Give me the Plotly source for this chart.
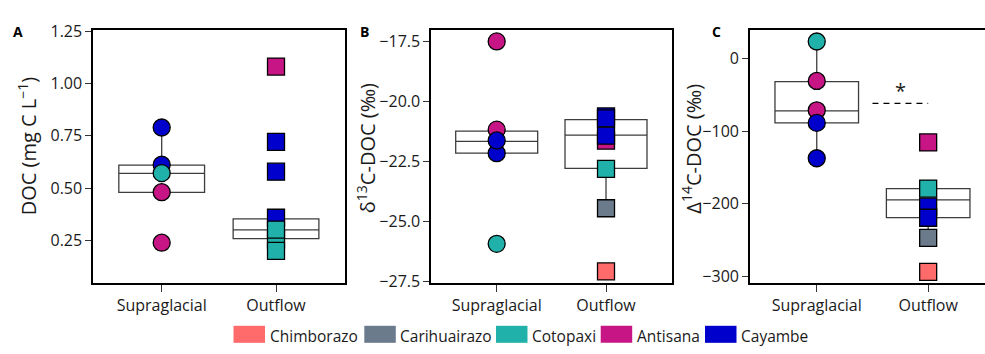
import plotly.graph_objects as go

# ---------------- data ----------------
volcanoes = ["Chimborazo", "Carihuairazo", "Cotopaxi", "Antisana", "Cayambe"]
volcano_colors = ["#FF6A6A", "#6C7B8B", "#20B2AA", "#C71585", "#0000CD"]
draw_order = ["Chimborazo", "Carihuairazo", "Antisana", "Cayambe", "Cotopaxi"]
sites = ["Supraglacial", "Outflow"]

# Panel A: DOC (mg C L-1)
doc_supra_volcano = ["Antisana", "Antisana", "Cayambe", "Cayambe", "Cotopaxi"]
doc_supra = [0.481, 0.240, 0.790, 0.612, 0.572]
doc_out_volcano = ["Antisana", "Cayambe", "Cayambe", "Cayambe", "Cotopaxi", "Cotopaxi", "Cotopaxi"]
doc_out = [1.081, 0.721, 0.579, 0.359, 0.255, 0.302, 0.201]
doc_box_q1 = [0.480, 0.259]
doc_box_median = [0.571, 0.301]
doc_box_q3 = [0.610, 0.354]
doc_box_lower = [0.480, 0.201]
doc_box_upper = [0.790, 0.359]

# Panel B: d13C-DOC (permil)
d13c_supra_volcano = ["Antisana", "Antisana", "Cayambe", "Cayambe", "Cotopaxi"]
d13c_supra = [-21.17, -17.50, -22.15, -21.62, -25.92]
d13c_out_volcano = ["Chimborazo", "Carihuairazo", "Antisana", "Cayambe", "Cayambe", "Cayambe", "Cotopaxi"]
d13c_out = [-27.07, -24.44, -21.63, -20.62, -20.70, -21.42, -22.80]
d13c_box_q1 = [-22.15, -22.78]
d13c_box_median = [-21.66, -21.40]
d13c_box_q3 = [-21.23, -20.75]
d13c_box_lower = [-22.15, -24.44]
d13c_box_upper = [-21.23, -20.62]

# Panel C: D14C-DOC (permil)
d14c_supra_volcano = ["Antisana", "Antisana", "Cayambe", "Cayambe", "Cotopaxi"]
d14c_supra = [-31.2, -71.5, -137.4, -88.8, 23.0]
d14c_out_volcano = ["Chimborazo", "Carihuairazo", "Antisana", "Cayambe", "Cayambe", "Cotopaxi"]
d14c_out = [-293.6, -246.8, -115.7, -203.9, -219.1, -179.1]
d14c_box_q1 = [-88.8, -218.9]
d14c_box_median = [-72.4, -194.7]
d14c_box_q3 = [-32.1, -179.1]
d14c_box_lower = [-137.4, -246.8]
d14c_box_upper = [23.0, -179.1]
sig_y = -62.0
sig_label = "*"

# tick labels
doc_ticks = [0.25, 0.50, 0.75, 1.00, 1.25]
doc_ticktext = ["0.25", "0.50", "0.75", "1.00", "1.25"]
d13c_ticks = [-27.5, -25.0, -22.5, -20.0, -17.5]
d13c_ticktext = ["\u221227.5", "\u221225.0", "\u221222.5", "\u221220.0", "\u221217.5"]
d14c_ticks = [-300, -200, -100, 0]
d14c_ticktext = ["\u2212300", "\u2212200", "\u2212100", "0"]

panel_letters = ["A", "B", "C"]
y_titles = ["DOC (mg C L<sup>\u22121</sup>)", "\u03b4<sup>13</sup>C-DOC (\u2030)", "\u0394<sup>14</sup>C-DOC (\u2030)"]

# ---------------- layout helpers ----------------
W, H = 985, 354
FONT = "Open Sans"
TXT = "#1a1a1a"
color_of = dict(zip(volcanoes, volcano_colors))

def px_x(p):
    return p / W

def px_y(p):
    return 1 - p / H

panels = [
    dict(sv=doc_supra_volcano, s=doc_supra, ov=doc_out_volcano, o=doc_out,
         q1=doc_box_q1, med=doc_box_median, q3=doc_box_q3, lo=doc_box_lower, hi=doc_box_upper,
         dom=[px_x(93.1), px_x(344.6)], yr=[0.0475, 1.256], xr=[-0.6, 1.6],
         tv=doc_ticks, tt=doc_ticktext, title_x=27, title_y=144, letter_x=18),
    dict(sv=d13c_supra_volcano, s=d13c_supra, ov=d13c_out_volcano, o=d13c_out,
         q1=d13c_box_q1, med=d13c_box_median, q3=d13c_box_q3, lo=d13c_box_lower, hi=d13c_box_upper,
         dom=[px_x(431.1), px_x(671.6)], yr=[-27.55, -17.02], xr=[-0.6, 1.6],
         tv=d13c_ticks, tt=d13c_ticktext, title_x=366, title_y=146, letter_x=364),
    dict(sv=d14c_supra_volcano, s=d14c_supra, ov=d14c_out_volcano, o=d14c_out,
         q1=d14c_box_q1, med=d14c_box_median, q3=d14c_box_q3, lo=d14c_box_lower, hi=d14c_box_upper,
         dom=[px_x(749.9), 1.0], yr=[-308.8, 39.0], xr=[-0.6, 1.51],
         tv=d14c_ticks, tt=d14c_ticktext, title_x=692, title_y=146.5, letter_x=716),
]

fig = go.Figure()
ydom = [px_y(288.5), px_y(21)]
annotations = []
shapes = []

for i, p in enumerate(panels):
    n = "" if i == 0 else str(i + 1)
    xa, ya = "x" + n, "y" + n
    # box
    fig.add_trace(go.Box(
        x=sites, q1=p["q1"], median=p["med"], q3=p["q3"],
        lowerfence=p["lo"], upperfence=p["hi"],
        xaxis=xa, yaxis=ya, width=0.75, whiskerwidth=0,
        fillcolor="white", line=dict(color="#3d3d3d", width=1.3),
        boxpoints=False, showlegend=False, hoverinfo="skip"))
    # points, drawn volcano by volcano
    for v in draw_order:
        xs, ys, sym = [], [], []
        for vv, val in zip(p["sv"], p["s"]):
            if vv == v:
                xs.append(sites[0]); ys.append(val); sym.append("circle")
        for vv, val in zip(p["ov"], p["o"]):
            if vv == v:
                xs.append(sites[1]); ys.append(val); sym.append("square")
        if not xs:
            continue
        fig.add_trace(go.Scatter(
            x=xs, y=ys, mode="markers", xaxis=xa, yaxis=ya, showlegend=False,
            marker=dict(symbol=sym, size=17, color=color_of[v],
                        line=dict(color="black", width=1.3))))
    axis_common = dict(showgrid=False, zeroline=False, showline=True, linecolor="black",
                       linewidth=1.5, ticks="outside", tickcolor="#333333", tickwidth=1.3,
                       tickfont=dict(family=FONT, size=16, color=TXT))
    fig.update_layout(**{
        "xaxis" + n: dict(axis_common, domain=p["dom"], type="category",
                          categoryorder="array", categoryarray=sites, range=p["xr"],
                          mirror=True, ticklen=7, anchor=ya, fixedrange=True),
        "yaxis" + n: dict(axis_common, domain=ydom, range=p["yr"], tickvals=p["tv"],
                          ticktext=p["tt"], mirror=(i < 2), ticklen=6, anchor=xa,
                          fixedrange=True),
    })
    annotations.append(dict(text=y_titles[i], xref="paper", yref="paper",
                            x=px_x(p["title_x"]), y=px_y(p["title_y"]), textangle=-90,
                            showarrow=False, xanchor="center", yanchor="middle",
                            font=dict(family=FONT, size=20, color=TXT)))
    annotations.append(dict(text="<b>" + panel_letters[i] + "</b>", xref="paper", yref="paper",
                            x=px_x(p["letter_x"]), y=px_y(23), showarrow=False,
                            xanchor="center", yanchor="middle",
                            font=dict(family=FONT, size=14, color="black")))

# significance marker in panel C
shapes.append(dict(type="line", xref="x3", yref="y3", x0=0.5, x1=1.0, y0=sig_y, y1=sig_y,
                   line=dict(color="black", width=1.2, dash="6px,5px")))
annotations.append(dict(text=sig_label, xref="x3", yref="y3", x=0.75, y=sig_y + 18,
                        showarrow=False, xanchor="center", yanchor="middle",
                        font=dict(family=FONT, size=20, color=TXT)))

# legend built from volcano list
legend_rect_left = [233.5, 364.3, 496.0, 600.7, 705.0]
for name, col, x0 in zip(volcanoes, volcano_colors, legend_rect_left):
    shapes.append(dict(type="rect", xref="paper", yref="paper",
                       x0=px_x(x0), x1=px_x(x0 + 31.5), y0=px_y(351.7), y1=px_y(333.7),
                       fillcolor=col, line=dict(width=0)))
    annotations.append(dict(text=name, xref="paper", yref="paper", x=px_x(x0 + 34),
                            y=px_y(344.5), showarrow=False, xanchor="left", yanchor="middle",
                            font=dict(family=FONT, size=15.5, color=TXT)))

fig.update_layout(width=W, height=H, margin=dict(l=0, r=0, t=0, b=0),
                  paper_bgcolor="white", plot_bgcolor="white", autosize=False,
                  annotations=annotations, shapes=shapes, boxmode="overlay",
                  font=dict(family=FONT))

fig.write_html("out.html")
